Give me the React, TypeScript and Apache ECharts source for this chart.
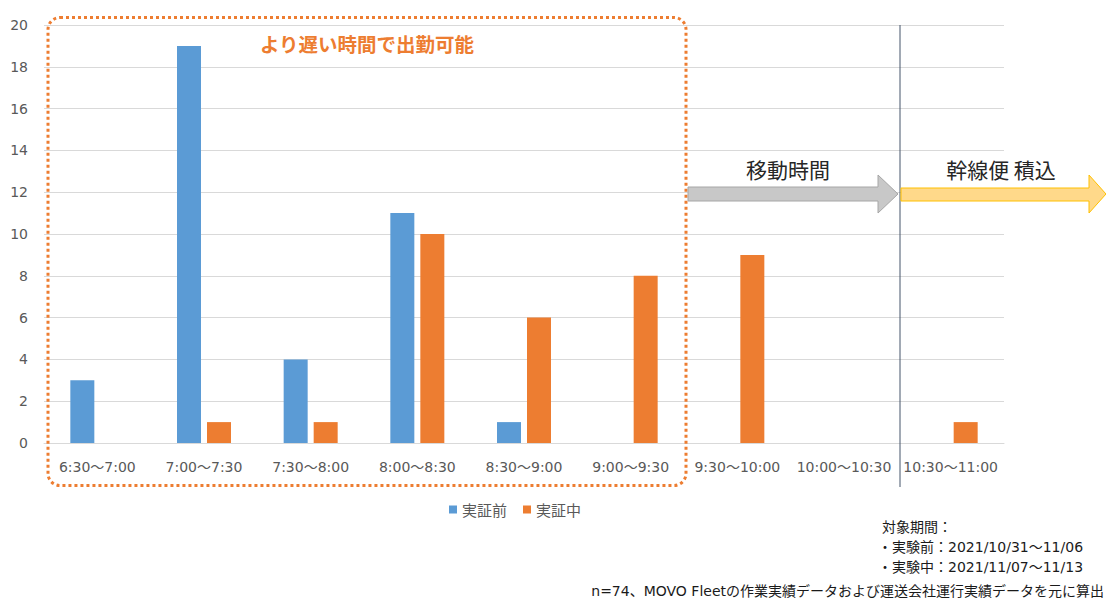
import React, { useEffect, useRef } from "react";
import * as echarts from "echarts";

const categories = [
  "6:30〜7:00",
  "7:00〜7:30",
  "7:30〜8:00",
  "8:00〜8:30",
  "8:30〜9:00",
  "9:00〜9:30",
  "9:30〜10:00",
  "10:00〜10:30",
  "10:30〜11:00",
];
const beforeValues = [3, 19, 4, 11, 1, 0, 0, 0, 0];
const duringValues = [0, 1, 1, 10, 6, 8, 9, 0, 1];
const seriesNames = ["実証前", "実証中"];
const highlightTitle = "より遅い時間で出勤可能";
const arrowLabels = ["移動時間", "幹線便 積込"];
const periodLines = [
  "対象期間：",
  "・実験前：2021/10/31〜11/06",
  "・実験中：2021/11/07〜11/13",
];
const sourceNote = "n=74、MOVO Fleetの作業実績データおよび運送会社運行実績データを元に算出";

const FONT = "'DejaVu Sans', 'Noto Sans CJK JP', sans-serif";
const JFONT = "'Noto Sans CJK JP', sans-serif";

export default function App() {
  const ref = useRef<HTMLDivElement>(null);
  useEffect(() => {
    if (!ref.current) return;
    const chart = echarts.init(ref.current, undefined, { renderer: "svg" });
    chart.setOption({
      animation: false,
      backgroundColor: "#ffffff",
      textStyle: { fontFamily: FONT },
      grid: { left: 44, right: 102, top: 25, bottom: 158 },
      legend: {
        data: seriesNames,
        left: 444,
        top: 497,
        icon: "rect",
        itemWidth: 8,
        itemHeight: 8,
        itemGap: 16,
        textStyle: { fontSize: 15, color: "#595959", fontFamily: JFONT },
      },
      xAxis: {
        type: "category",
        data: categories,
        axisLine: { lineStyle: { color: "#D9D9D9" } },
        axisTick: { show: false },
        axisLabel: { interval: 0, fontSize: 14, color: "#595959", margin: 17, fontFamily: FONT },
      },
      yAxis: {
        type: "value",
        min: 0,
        max: 20,
        interval: 2,
        axisLine: { show: false },
        axisTick: { show: false },
        axisLabel: { fontSize: 14, color: "#595959", margin: 16, fontFamily: FONT },
        splitLine: { lineStyle: { color: "#D9D9D9" } },
      },
      series: [
        {
          name: seriesNames[0],
          type: "bar",
          data: beforeValues,
          barWidth: 24,
          barGap: "25%",
          itemStyle: { color: "#5B9BD5" },
        },
        {
          name: seriesNames[1],
          type: "bar",
          data: duringValues,
          barWidth: 24,
          barGap: "25%",
          itemStyle: { color: "#ED7D31" },
        },
      ],
      graphic: [
        {
          type: "rect",
          shape: { x: 48, y: 17.5, width: 638, height: 468, r: 12 },
          style: { fill: "none", stroke: "#ED7D31", lineWidth: 3, lineDash: [3, 3] },
          z: 10,
        },
        {
          type: "text",
          x: 367,
          y: 43,
          style: {
            text: highlightTitle,
            fill: "#ED7D31",
            font: `bold 19.5px ${JFONT}`,
            textAlign: "center",
            textVerticalAlign: "middle",
          },
          z: 10,
        },
        {
          type: "line",
          shape: { x1: 900, y1: 25, x2: 900, y2: 487 },
          style: { stroke: "#44546A", lineWidth: 1 },
          z: 10,
        },
        {
          type: "polygon",
          shape: {
            points: [
              [688, 187],
              [878, 187],
              [878, 175],
              [898, 194],
              [878, 213],
              [878, 201],
              [688, 201],
            ],
          },
          style: { fill: "#C8C8C8", stroke: "#A6A6A6", lineWidth: 1 },
          z: 10,
        },
        {
          type: "polygon",
          shape: {
            points: [
              [901, 188],
              [1089, 188],
              [1089, 175],
              [1106, 194],
              [1089, 213],
              [1089, 201],
              [901, 201],
            ],
          },
          style: { fill: "#FFD98A", stroke: "#FFC000", lineWidth: 1 },
          z: 10,
        },
        {
          type: "text",
          x: 788,
          y: 169,
          style: {
            text: arrowLabels[0],
            fill: "#262626",
            font: `21px ${JFONT}`,
            textAlign: "center",
            textVerticalAlign: "middle",
          },
          z: 10,
        },
        {
          type: "text",
          x: 1001,
          y: 169,
          style: {
            text: arrowLabels[1],
            fill: "#262626",
            font: `21px ${JFONT}`,
            textAlign: "center",
            textVerticalAlign: "middle",
          },
          z: 10,
        },
        ...periodLines.map((t, i) => ({
          type: "text",
          x: i === 0 ? 882 : 878,
          y: 527 + i * 20,
          style: {
            text: t,
            fill: "#1a1a1a",
            font: `14px ${FONT}`,
            textAlign: "left",
            textVerticalAlign: "middle",
          },
          z: 10,
        })),
        {
          type: "text",
          x: 1104,
          y: 591,
          style: {
            text: sourceNote,
            fill: "#1a1a1a",
            font: `14px ${FONT}`,
            textAlign: "right",
            textVerticalAlign: "middle",
          },
          z: 10,
        },
      ],
    });
    return () => chart.dispose();
  }, []);
  return (
    <div
      ref={ref}
      style={{ position: "absolute", left: 0, top: 0, width: 1106, height: 601 }}
    />
  );
}
